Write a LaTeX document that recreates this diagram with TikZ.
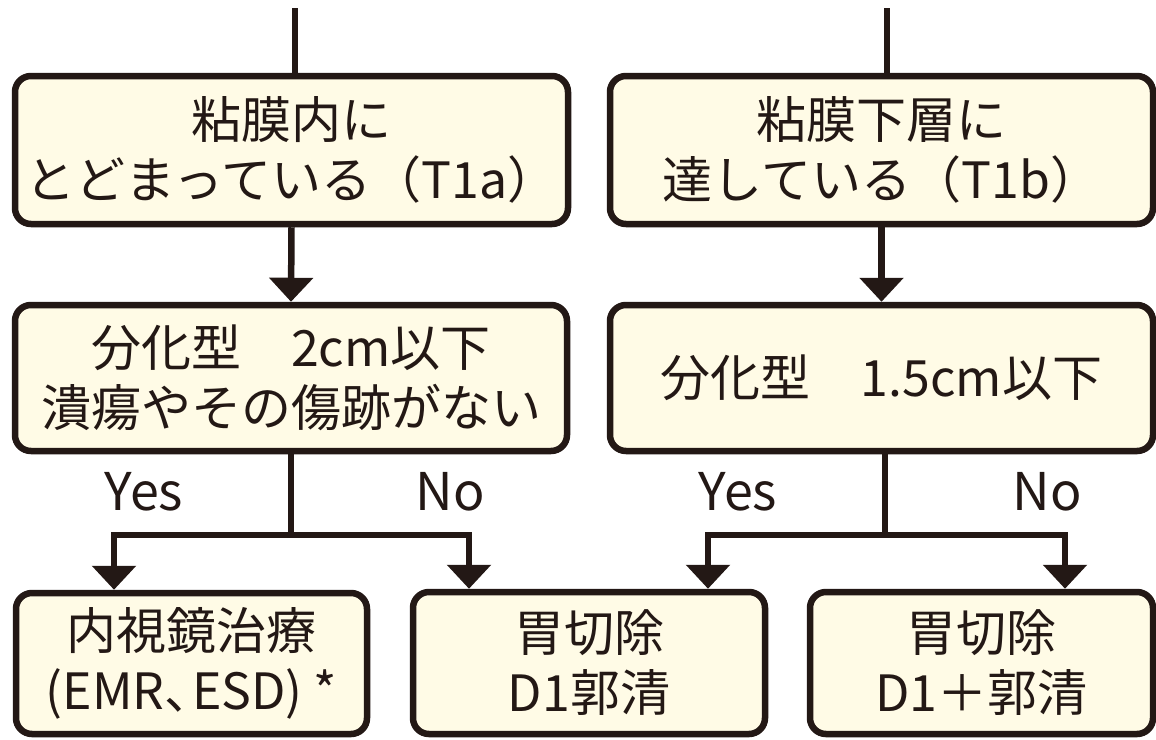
\documentclass[tikz,border=0pt]{standalone}
\usepackage{fontspec}
\setmainfont{Noto Sans CJK JP}
\usetikzlibrary{arrows.meta}
\definecolor{ink}{HTML}{231815}
\definecolor{cream}{HTML}{FFFBE6}
\begin{document}
\begin{tikzpicture}[x=1pt,y=-1pt,
  box/.style={draw=ink,fill=cream,line width=6.5pt,rounded corners=16pt,
    rectangle,align=center,inner sep=0pt,text=ink,
    font=\fontsize{50}{60}\selectfont},
  ln/.style={draw=ink,line width=6.5pt},
  arr/.style={-{Triangle[width=43pt,length=24pt]}},
  lbl/.style={text=ink,font=\fontsize{52}{60}\selectfont,inner sep=0pt}]
\useasboundingbox (0,0) rectangle (1156,739);
\node[box,minimum width=553pt,minimum height=148pt] (A) at (291.5,150) {粘膜内に\\とどまっている（T1a）};
\node[box,minimum width=543pt,minimum height=148pt] (B) at (881.5,150) {粘膜下層に\\達している（T1b）};
\node[box,minimum width=552pt,minimum height=146pt] (C) at (291,378) {分化型　2cm以下\\潰瘍やその傷跡がない};
\node[box,minimum width=543pt,minimum height=146pt] (D) at (881.5,378) {分化型　1.5cm以下};
\node[box,minimum width=351pt,minimum height=141pt] (E) at (191.5,663.5) {内視鏡治療\\(EMR、\hspace{-0.45em}ESD) *};
\node[box,minimum width=352pt,minimum height=142pt] (F) at (589,663) {胃切除\\D1郭清};
\node[box,minimum width=343pt,minimum height=142pt] (G) at (981.5,663) {胃切除\\D1＋郭清};
\coordinate (tA) at (295,8);
\coordinate (tB) at (887,8);
\coordinate (xE) at (114,0);
\coordinate (xF1) at (469,0);
\coordinate (xF2) at (708,0);
\coordinate (xG) at (1065,0);
\coordinate (jl) at (291,535);
\coordinate (jr) at (885,535);
\draw[ln] (tA) -- (tA |- A.north);
\draw[ln] (tB) -- (tB |- B.north);
\draw[ln,arr] (A.south) -- (C.north);
\draw[ln,arr] (B.south) -- (D.north);
\draw[ln] (C.south -| jl) -- (jl);
\draw[ln] (D.south -| jr) -- (jr);
\draw[ln,arr] (jl) -| (E.north -| xE);
\draw[ln,arr] (jl) -| (F.north -| xF1);
\draw[ln,arr] (jr) -| (F.north -| xF2);
\draw[ln,arr] (jr) -| (G.north -| xG);
\node[lbl] (y1) at (144,492) {Yes};
\node[lbl] (n1) at (450,492) {No};
\node[lbl] (y2) at (738,492) {Yes};
\node[lbl] (n2) at (1047,492) {No};
\end{tikzpicture}
\end{document}
